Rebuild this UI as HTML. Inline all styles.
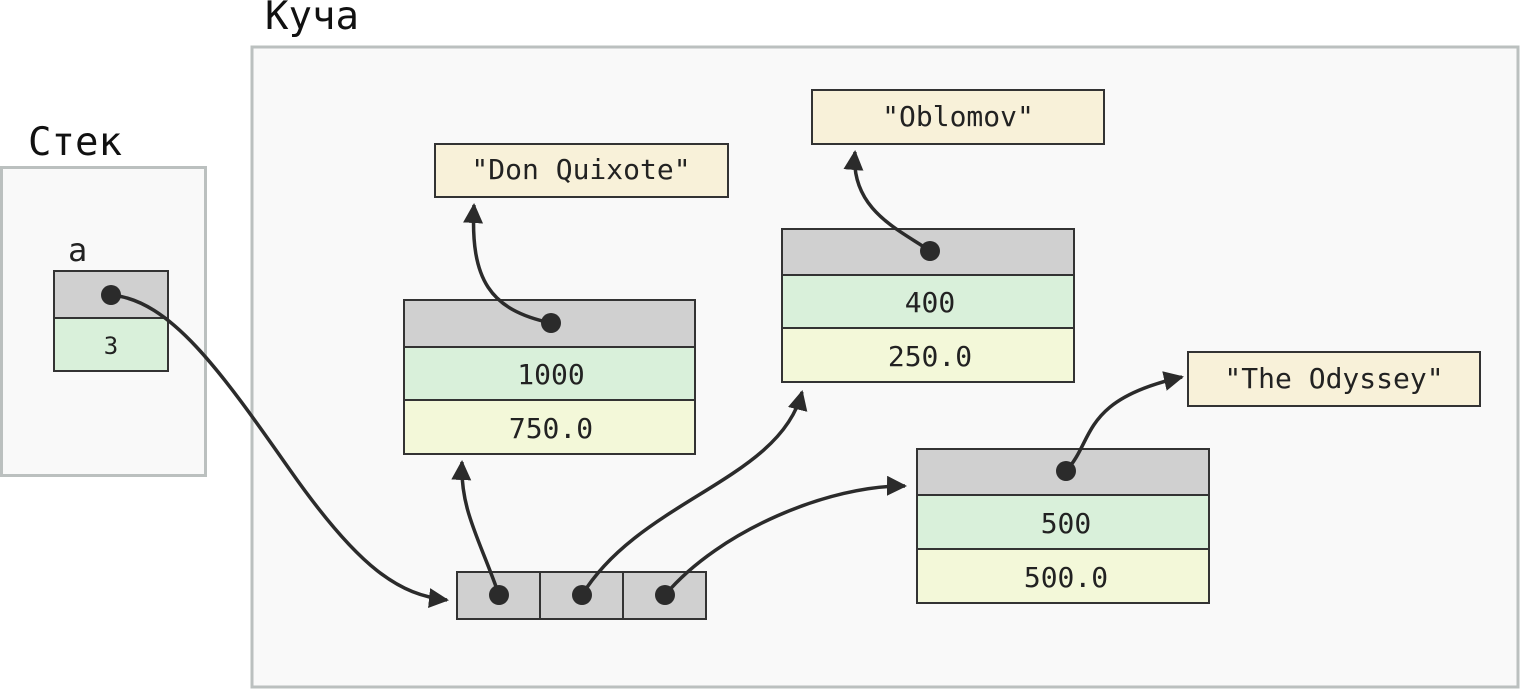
<!DOCTYPE html>
<html><head><meta charset="utf-8"><style>html,body{margin:0;padding:0;background:#fff}</style></head><body>
<svg width="1520" height="690" xmlns="http://www.w3.org/2000/svg" font-family="'DejaVu Sans Mono','Liberation Mono',monospace">
<defs>
<marker id="a2" markerWidth="22" markerHeight="22" refX="18" refY="10" orient="auto" markerUnits="userSpaceOnUse"><path d="M0,0 L20,10 L0,20 z" fill="#2b2b2b"/></marker></defs>
<rect x="252" y="47" width="1266" height="640" fill="#f9f9f9" stroke="#bbc0bf" stroke-width="3"/>
<rect x="1.5" y="167.5" width="204" height="308" fill="#f9f9f9" stroke="#bbc0bf" stroke-width="3"/>
<text x="265" y="29" font-size="39" fill="#111">Куча</text>
<text x="28" y="155" font-size="39" fill="#111">Стек</text>
<text x="68" y="261" font-size="32" fill="#222">a</text>
<g stroke="#333" stroke-width="2">
<rect x="54" y="271" width="114" height="47" fill="#d0d0d0"/><rect x="54" y="318" width="114" height="53" fill="#d9f0da"/>
<rect x="404" y="300" width="291" height="47" fill="#d0d0d0"/><rect x="404" y="347" width="291" height="53" fill="#d9f0da"/><rect x="404" y="400" width="291" height="54" fill="#f3f8d9"/>
<rect x="782" y="229" width="292" height="46" fill="#d0d0d0"/><rect x="782" y="275" width="292" height="53" fill="#d9f0da"/><rect x="782" y="328" width="292" height="54" fill="#f3f8d9"/>
<rect x="917" y="449" width="292" height="46" fill="#d0d0d0"/><rect x="917" y="495" width="292" height="54" fill="#d9f0da"/><rect x="917" y="549" width="292" height="54" fill="#f3f8d9"/>
<rect x="435" y="144" width="293" height="53" fill="#f8f1d9"/>
<rect x="812" y="90" width="292" height="54" fill="#f8f1d9"/>
<rect x="1188" y="352" width="292" height="54" fill="#f8f1d9"/>
<rect x="457" y="572" width="83" height="47" fill="#d0d0d0"/><rect x="540" y="572" width="83" height="47" fill="#d0d0d0"/><rect x="623" y="572" width="83" height="47" fill="#d0d0d0"/>
</g>
<g font-size="28" fill="#222" text-anchor="middle">
<text x="111" y="354" font-size="24">3</text>
<text x="551" y="384">1000</text><text x="551" y="438">750.0</text>
<text x="930" y="312">400</text><text x="930" y="366">250.0</text>
<text x="1066" y="533">500</text><text x="1066" y="587">500.0</text>
<text x="581" y="179">"Don Quixote"</text>
<text x="958" y="126">"Oblomov"</text>
<text x="1334" y="388">"The Odyssey"</text>
</g>
<g fill="none" stroke="#2b2b2b" stroke-width="3.5" marker-end="url(#a2)">
<path d="M111,295 C170,300 220,370 290,470 C360,570 400,595 447,600"/>
<path d="M551,323 C490,310 470,280 474,205"/>
<path d="M930,251 C900,230 850,210 855,152"/>
<path d="M1066,471 C1095,440 1080,400 1182,377"/>
<path d="M499,595 C480,540 460,510 462,462"/>
<path d="M582,595 C640,500 780,480 802,392"/>
<path d="M665,595 C720,530 830,485 905,486"/>
</g>
<g fill="#2b2b2b">
<circle cx="111" cy="295" r="10"/><circle cx="551" cy="323" r="10"/><circle cx="930" cy="251" r="10"/><circle cx="1066" cy="471" r="10"/>
<circle cx="499" cy="595" r="10"/><circle cx="582" cy="595" r="10"/><circle cx="665" cy="595" r="10"/>
</g>
</svg>
</body></html>
